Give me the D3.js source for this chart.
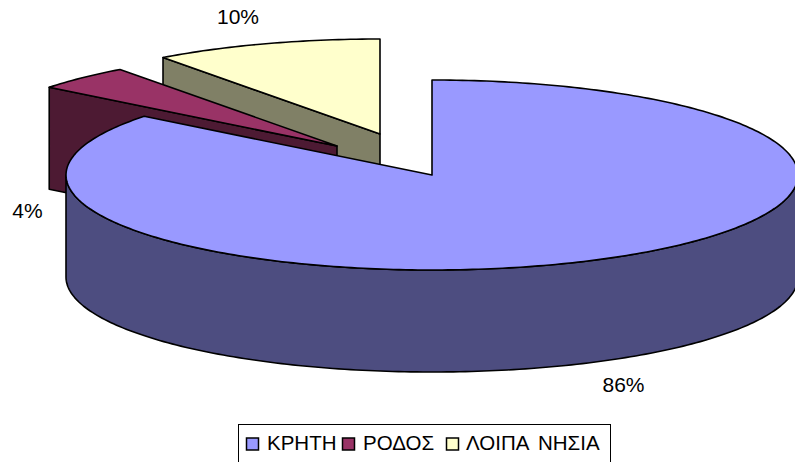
<!DOCTYPE html>
<html>
<head>
<meta charset="utf-8">
<script src="https://d3js.org/d3.v7.min.js"></script>
<style>
  html, body { margin: 0; padding: 0; background: #fff; overflow: hidden; }
  svg { display: block; }
  text { font-family: "Liberation Sans", Arial, sans-serif; fill: #000; }
</style>
</head>
<body>
<div id="chart"></div>
<script>
const categories = ["ΚΡΗΤΗ", "ΡΟΔΟΣ", "ΛΟΙΠΑ ΝΗΣΙΑ"];
const values = [85.6, 4.3, 10.1];
const valueLabels = ["86%", "4%", "10%"];

const width = 795,
    height = 462,
    rx = 366,
    ry = 95,
    depth = 102;

const colors = d3.scaleOrdinal().domain(categories).range(["#9999ff", "#993366", "#ffffcc"]);
const shade = c => d3.rgb(d3.rgb(c).r / 2, d3.rgb(c).g / 2, d3.rgb(c).b / 2);

// how far each slice is pulled out of the pie, plus where its label goes
const layout = [
  { cx: 432, cy: 175, lx: 623.5, ly: 392 },
  { cx: 337, cy: 146, lx: 27.5, ly: 218 },
  { cx: 380, cy: 134, lx: 238, ly: 24 }
];

const svg = d3.select("#chart")
  .append("svg")
  .attr("width", width)
  .attr("height", height)
  .attr("viewBox", [0, 0, width, height]);

const slices = d3.pie().sort(null)(values);

// squashed circle, angle 0 at the top going clockwise
const project = (a, i, dz = 0) => [
  layout[i].cx + rx * Math.sin(a),
  layout[i].cy - ry * Math.cos(a) + dz
];
const line = d3.line();
const arcPoints = (a0, a1, i, dz = 0) => {
  const n = Math.max(2, Math.ceil((a1 - a0) * 60));
  return d3.range(n + 1).map(k => project(a0 + (a1 - a0) * k / n, i, dz));
};

const stroke = g => g.attr("stroke", "#000").attr("stroke-width", 1.6).attr("stroke-linejoin", "round");

// back slices first, the big one sits on top of them
[2, 1, 0].forEach(i => {
  const s = slices[i];
  const c = colors(categories[i]);
  const apex = [layout[i].cx, layout[i].cy];
  const g = svg.append("g").call(stroke);

  if (i === 0) {
    // front wall of the big slice, from 3 o'clock round to 9 o'clock
    const a0 = Math.PI / 2, a1 = Math.PI * 1.5;
    const wall = arcPoints(a0, a1, i).concat(arcPoints(a0, a1, i, depth).reverse());
    g.append("path").attr("d", line(wall) + "Z").attr("fill", shade(c));
  } else {
    // radial side wall on the start of the slice
    const p = project(s.startAngle, i);
    const wall = [apex, p, [p[0], p[1] + depth], [apex[0], apex[1] + depth]];
    g.append("path").attr("d", line(wall) + "Z").attr("fill", shade(c));
  }

  const top = [apex].concat(arcPoints(s.startAngle, s.endAngle, i));
  g.append("path").attr("d", line(top) + "Z").attr("fill", c);
});

svg.append("g")
  .selectAll("text")
  .data(valueLabels)
  .join("text")
  .attr("x", (d, i) => layout[i].lx)
  .attr("y", (d, i) => layout[i].ly)
  .attr("text-anchor", "middle")
  .attr("font-size", 21)
  .text(d => d);

// legend, bottom of the box runs off the page
const legend = svg.append("g");
legend.append("rect")
  .attr("x", 238.5).attr("y", 424.5)
  .attr("width", 372).attr("height", 60)
  .attr("fill", "#fff").attr("stroke", "#000").attr("stroke-width", 1);

const legendX = [246.5, 342.5, 446.5];
const legendTextX = [267, 363, 466];
const legendItems = legend.selectAll("g")
  .data(categories)
  .join("g")
  .attr("transform", (d, i) => `translate(${legendX[i]},438)`);

legendItems.append("rect")
  .attr("width", 12).attr("height", 12)
  .attr("fill", d => colors(d))
  .attr("stroke", "#000").attr("stroke-width", 1.5);

legendItems.append("text")
  .attr("x", (d, i) => legendTextX[i] - legendX[i])
  .attr("y", 12)
  .attr("font-size", 20.5)
  .attr("word-spacing", 4)
  .text(d => d);
</script>
</body>
</html>
